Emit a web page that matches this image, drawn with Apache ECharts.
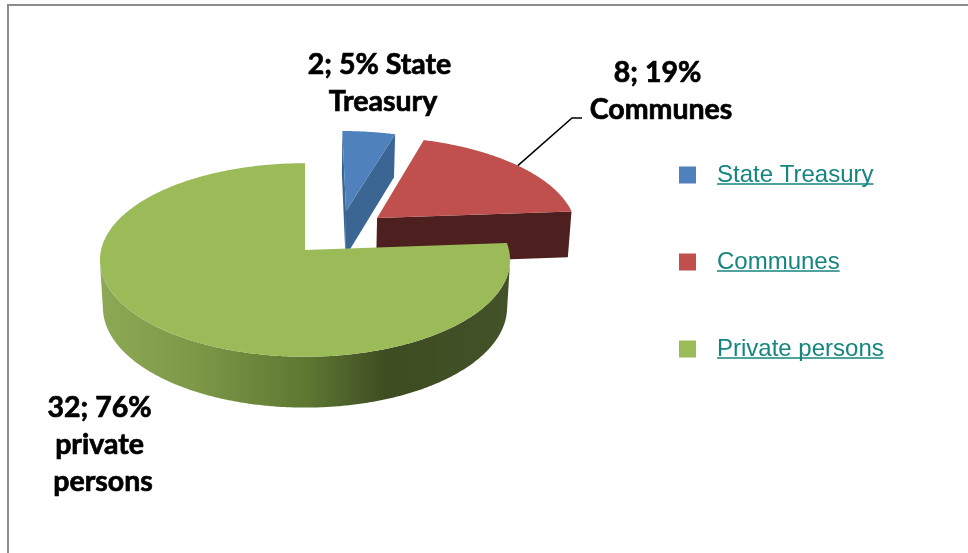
<!DOCTYPE html>
<html>
<head>
<meta charset="utf-8">
<script src="https://cdn.jsdelivr.net/npm/echarts@6/dist/echarts.min.js"></script>
<style>
  html, body { margin: 0; padding: 0; background: #fff; }
  #chart { width: 968px; height: 553px; }
</style>
</head>
<body>
<div id="chart"></div>
<script>
// ---- data ----
const categories = ['State Treasury', 'Communes', 'Private persons'];
const values = [2, 8, 32];
const labelNames = ['State Treasury', 'Communes', 'private persons'];

// ---- styling / layout ----
const topColors = ['#4F81BD', '#C0504D', '#9BBB59'];
const cutColors = ['#3B6593', '#4E1F1F', '#5E7832'];
const rimColors = [
  '#3D6796',
  '#5A2322',
  {
    type: 'linear', x: 0, y: 0, x2: 1, y2: 0,
    colorStops: [
      { offset: 0, color: '#8EA956' },
      { offset: 0.25, color: '#7B9645' },
      { offset: 0.5, color: '#5E7832' },
      { offset: 0.7, color: '#3E4C22' },
      { offset: 1, color: '#435228' }
    ]
  }
];
// slice displacement on the pie plane (x to the right, z toward the viewer)
const explode = [[0.21, -0.425], [0.366, -0.346], [0, 0]];
// data label placement (centre of text block) and wrap width
const labelBoxes = [
  { x: 383, y: 83, width: 175 },
  { x: 661, y: 91, width: 165, leader: [[572, 118], [582, 118]] },
  { x: 103, y: 445, width: 125 }
];

// perspective camera for the tilted pie
const cam = { cx: 305, cy: 250, f: 1748, D: 8.57, phi: 28 * Math.PI / 180, h: 0.266 };
const sinP = Math.sin(cam.phi), cosP = Math.cos(cam.phi);
function project(X, Y, Z) {
  const vx = X, vy = Y - cam.D * sinP, vz = Z - cam.D * cosP;
  const d = -vy * sinP - vz * cosP;
  const up = vy * cosP - vz * sinP;
  return [cam.cx + cam.f * vx / d, cam.cy - cam.f * up / d];
}
// horizontal visibility of a vertical face with normal (nx, nz) at point (px, pz)
function faces(nx, nz, px, pz) {
  return nx * (0 - px) + nz * (cam.D * cosP - pz) > 0;
}

const total = values.reduce((a, b) => a + b, 0);

function sliceAngles(i) {
  let acc = 0;
  for (let k = 0; k < i; k++) acc += values[k];
  const a = acc / total * Math.PI * 2;
  const b = (acc + values[i]) / total * Math.PI * 2;
  return [a, b];
}

function renderSlice(params, api) {
  const i = params.seriesIndex;
  const v = api.value(0);
  const [a, b] = sliceAngles(i);
  const [ox, oz] = explode[i];
  const rim = (t, y) => project(ox + Math.sin(t), y, oz - Math.cos(t));
  const steps = Math.max(4, Math.ceil((b - a) / (Math.PI / 360)));
  const ts = [];
  for (let s = 0; s <= steps; s++) ts.push(a + (b - a) * s / steps);

  const children = [];
  const apexTop = project(ox, 0, oz);
  const apexBot = project(ox, -cam.h, oz);

  // radial cut faces
  const cutFace = (t, nx, nz) => {
    if (!faces(nx, nz, ox + 0.5 * Math.sin(t), oz - 0.5 * Math.cos(t))) return;
    children.push({
      type: 'polygon',
      shape: { points: [apexTop, rim(t, 0), rim(t, -cam.h), apexBot] },
      style: { fill: cutColors[i] }
    });
  };
  cutFace(a, -Math.cos(a), -Math.sin(a));
  cutFace(b, Math.cos(b), Math.sin(b));

  // outer rim, only the runs that face the camera
  let run = [];
  const flush = () => {
    if (run.length > 1) {
      const topPts = run.map(t => rim(t, 0));
      const botPts = run.map(t => rim(t, -cam.h)).reverse();
      children.push({
        type: 'polygon',
        shape: { points: topPts.concat(botPts) },
        style: { fill: rimColors[i] }
      });
    }
    run = [];
  };
  ts.forEach(t => {
    const vis = faces(Math.sin(t), -Math.cos(t), ox + Math.sin(t), oz - Math.cos(t));
    if (vis) run.push(t); else flush();
  });
  flush();

  // top face
  children.push({
    type: 'polygon',
    shape: { points: [apexTop].concat(ts.map(t => rim(t, 0))) },
    style: { fill: topColors[i] }
  });

  // data label
  const box = labelBoxes[i];
  const pct = Math.round(v / total * 100);
  if (box.leader) {
    const mid = (a + b) / 2;
    children.push({
      type: 'polyline',
      shape: { points: [rim(mid, 0)].concat(box.leader) },
      style: { stroke: '#000', lineWidth: 1.5, fill: null }
    });
  }
  children.push({
    type: 'text',
    style: {
      text: v + '; ' + pct + '% ' + labelNames[i],
      x: box.x, y: box.y,
      width: box.width, overflow: 'break',
      align: 'center', verticalAlign: 'middle',
      font: 'bold 28.5px Lato',
      lineHeight: 37,
      fill: '#000',
      stroke: '#000',
      lineWidth: 0.7
    }
  });

  return { type: 'group', children };
}

const legendFont = '24px "Liberation Sans"';
const legendTops = [163, 250, 337];
const legendX = 679;
const legendText = '#14857F';

const chart = echarts.init(document.getElementById('chart'), null, { renderer: 'canvas' });

const measure = document.createElement('canvas').getContext('2d');
measure.font = legendFont;

const option = {
  animation: false,
  backgroundColor: '#fff',
  legend: categories.map((name, i) => ({
    data: [name],
    orient: 'vertical',
    left: legendX,
    top: legendTops[i],
    padding: 0,
    icon: 'rect',
    itemWidth: 17,
    itemHeight: 17,
    selectedMode: false,
    textStyle: {
      fontFamily: 'Liberation Sans',
      fontSize: 24,
      color: legendText,
      padding: [0, 0, 0, 16]
    }
  })),
  graphic: [
    {
      type: 'rect',
      shape: { x: 8, y: 5, width: 1000, height: 1000 },
      style: { fill: null, stroke: '#8C8C8C', lineWidth: 2 },
      silent: true
    }
  ].concat(categories.map((name, i) => ({
    type: 'line',
    shape: {
      x1: 717, y1: legendTops[i] + 21,
      x2: 717 + measure.measureText(name).width, y2: legendTops[i] + 21
    },
    style: { stroke: legendText, lineWidth: 1.5 },
    silent: true
  }))),
  series: categories.map((name, i) => ({
    type: 'custom',
    name: name,
    coordinateSystem: 'none',
    itemStyle: { color: topColors[i] },
    data: [[values[i]]],
    renderItem: renderSlice,
    z: i
  }))
};
chart.setOption(option);
</script>
</body>
</html>
